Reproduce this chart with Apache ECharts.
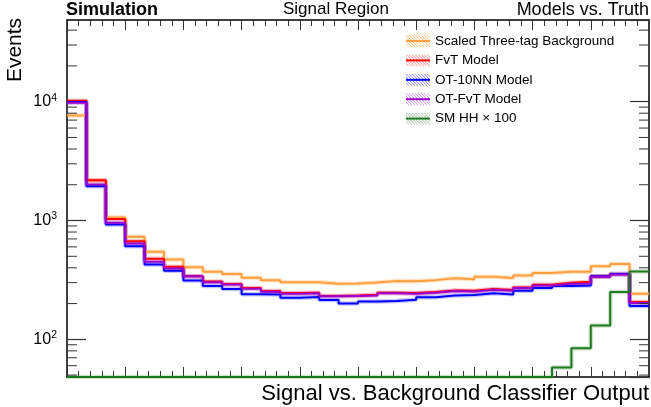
<!DOCTYPE html>
<html>
<head>
<meta charset="utf-8">
<script src="https://cdn.jsdelivr.net/npm/echarts@6/dist/echarts.min.js"></script>
<style>
  html, body { margin: 0; padding: 0; background: #fff; }
  #chart { width: 651px; height: 407px; }
</style>
</head>
<body>
<div id="chart"></div>
<script>
const FONT = '"Liberation Sans", Arial, Helvetica, sans-serif'

// 30 bins over the classifier output, 0..1
const binEdges = [0, 1/30, 2/30, 3/30, 4/30, 5/30, 6/30, 7/30, 8/30, 9/30, 10/30, 11/30, 12/30, 13/30, 14/30,
  15/30, 16/30, 17/30, 18/30, 19/30, 20/30, 21/30, 22/30, 23/30, 24/30, 25/30, 26/30, 27/30, 28/30, 29/30, 1]

const seriesNames = ['Scaled Three-tag Background', 'FvT Model', 'OT-10NN Model', 'OT-FvT Model', 'SM HH × 100']
const seriesColors = ['#ffa040', '#ff0000', '#0000ff', '#9a00d0', '#1f7a1f']
const bandColors = ['rgba(255,160,64,0.3)', 'rgba(255,0,0,0.22)', 'rgba(0,0,255,0.22)', 'rgba(154,0,208,0.22)', 'rgba(31,122,31,0.22)']

const threeTag = [7670, 2170, 1059, 729, 546, 470, 405, 371, 354, 330, 315, 303, 303, 294, 295,
  301, 309, 308, 315, 326, 320, 336, 328, 345, 361, 371, 371, 413, 430, 242]
const fvt = [10200, 2180, 1032, 670, 477, 408, 340, 307, 292, 270, 255, 245, 247, 232, 234,
  237, 247, 245, 250, 258, 256, 265, 260, 273, 288, 299, 305, 340, 355, 206]
const ot10nn = [9940, 1940, 925, 608, 427, 378, 313, 281, 265, 240, 239, 224, 227, 214, 200,
  208, 210, 215, 226, 234, 236, 244, 239, 257, 270, 281, 284, 340, 355, 191]
const otFvt = [9800, 2005, 957, 641, 450, 395, 340, 303, 289, 267, 252, 242, 244, 230, 232,
  234, 244, 242, 247, 255, 253, 262, 257, 270, 284, 293, 295, 336, 352, 202]
// below the axis floor in the first 25 bins
const smHH = [48.2, 48.2, 48.2, 48.2, 48.2, 48.2, 48.2, 48.2, 48.2, 48.2, 48.2, 48.2, 48.2, 48.2, 48.2,
  48.2, 48.2, 48.2, 48.2, 48.2, 48.2, 48.2, 48.2, 48.2, 48.2, 58, 84, 131, 250, 373]

const yMin = 48.2
const yMax = 48700
const yMinorTicks = [50, 60, 70, 80, 90, 200, 300, 400, 500, 600, 700, 800, 900,
  2000, 3000, 4000, 5000, 6000, 7000, 8000, 9000, 20000, 30000, 40000]

const allValues = [threeTag, fvt, ot10nn, otFvt, smHH]

// histogram outline: one point per lower edge, plus the closing edge
function histPoints(values) {
  const pts = values.map((v, i) => [binEdges[i], v])
  pts.push([binEdges[values.length], values[values.length - 1]])
  return pts
}

// hatched legend box with a line through it
function hatchIcon(color, light) {
  const c = document.createElement('canvas')
  c.width = 24
  c.height = 12
  const ctx = c.getContext('2d')
  ctx.strokeStyle = light
  ctx.lineWidth = 1
  for (let k = -12; k < 24; k += 3) {
    ctx.beginPath()
    ctx.moveTo(k, 0)
    ctx.lineTo(k + 12, 12)
    ctx.stroke()
  }
  ctx.strokeStyle = color
  ctx.lineWidth = 2
  ctx.beginPath()
  ctx.moveTo(0, 6)
  ctx.lineTo(24, 6)
  ctx.stroke()
  return c
}

const lightHatch = ['rgba(255,160,64,0.6)', 'rgba(255,0,0,0.45)', 'rgba(0,0,255,0.45)', 'rgba(154,0,208,0.45)', 'rgba(31,122,31,0.45)']

const series = []
allValues.forEach((vals, i) => {
  series.push({
    name: seriesNames[i],
    type: 'line',
    step: 'end',
    symbol: 'none',
    z: 3,
    data: histPoints(vals),
    lineStyle: { color: seriesColors[i], width: 2 },
    itemStyle: { color: seriesColors[i] }
  })
})
allValues.forEach((vals, i) => {
  series.push({
    name: seriesNames[i],
    type: 'line',
    step: 'end',
    symbol: 'none',
    silent: true,
    z: 2,
    data: histPoints(vals),
    lineStyle: { color: bandColors[i], width: 4.5 },
    itemStyle: { color: seriesColors[i] }
  })
})
// log minor ticks on left and right frame
series.push({
  type: 'custom',
  silent: true,
  z: 4,
  data: yMinorTicks.map(v => [0, v]),
  renderItem: (params, api) => {
    const y = api.coord([0, api.value(1)])[1]
    const cs = params.coordSys
    return {
      type: 'group',
      children: [
        { type: 'line', shape: { x1: cs.x, y1: y, x2: cs.x + 10, y2: y }, style: { stroke: '#333', lineWidth: 1 } },
        { type: 'line', shape: { x1: cs.x + cs.width - 10, y1: y, x2: cs.x + cs.width, y2: y }, style: { stroke: '#333', lineWidth: 1 } }
      ]
    }
  }
})

const xAxisBase = {
  type: 'value',
  min: 0,
  max: 1,
  interval: 0.1,
  axisLine: { onZero: false, lineStyle: { color: '#000', width: 1.5 } },
  axisTick: { inside: true, length: 10, lineStyle: { color: '#333', width: 1 } },
  minorTick: { show: true, splitNumber: 5, length: 6, lineStyle: { color: '#333', width: 1 } },
  axisLabel: { show: false },
  splitLine: { show: false }
}

const yAxisBase = {
  type: 'log',
  logBase: 10,
  min: yMin,
  max: yMax,
  axisLine: { onZero: false, lineStyle: { color: '#000', width: 1.5 } },
  axisTick: { inside: true, length: 19, lineStyle: { color: '#333', width: 1.2 } },
  splitLine: { show: false }
}

const chart = echarts.init(document.getElementById('chart'))
chart.setOption({
  animation: false,
  backgroundColor: '#fff',
  textStyle: { fontFamily: FONT },
  grid: { left: 67, right: 2, top: 20, bottom: 30 },
  title: [
    { text: 'Simulation', left: 66, top: 1, padding: 0, textStyle: { fontFamily: FONT, fontSize: 18, fontWeight: 'bold', color: '#000' } },
    { text: 'Signal Region', left: 283, top: 1, padding: 0, textStyle: { fontFamily: FONT, fontSize: 17, fontWeight: 'normal', color: '#000' } },
    { text: 'Models vs. Truth', right: 2, top: 1, padding: 0, textStyle: { fontFamily: FONT, fontSize: 18, fontWeight: 'normal', color: '#000' } }
  ],
  legend: {
    orient: 'vertical',
    left: 406,
    top: 34,
    padding: 0,
    itemWidth: 24,
    itemHeight: 12,
    itemGap: 5.4,
    textStyle: { fontFamily: FONT, fontSize: 13.5, lineHeight: 13, color: '#000' },
    data: seriesNames.map((n, i) => ({
      name: n,
      icon: 'rect',
      itemStyle: { color: { image: hatchIcon(seriesColors[i], lightHatch[i]), repeat: 'no-repeat' }, borderWidth: 0 }
    }))
  },
  xAxis: [
    Object.assign({}, xAxisBase, { position: 'bottom' }),
    Object.assign({}, xAxisBase, { position: 'top' })
  ],
  yAxis: [
    Object.assign({}, yAxisBase, {
      position: 'left',
      axisLabel: {
        margin: 10,
        showMinLabel: false,
        showMaxLabel: false,
        formatter: v => {
          const e = Math.round(Math.log10(v))
          if (Math.abs(Math.log10(v) - e) > 1e-6) return ''
          return '{b|10}{s|' + e + '}'
        },
        rich: {
          b: { fontFamily: FONT, fontSize: 16, color: '#000' },
          s: { fontFamily: FONT, fontSize: 10.5, color: '#000', verticalAlign: 'top', padding: [0, 0, 8, 0] }
        }
      }
    }),
    Object.assign({}, yAxisBase, { position: 'right', axisLabel: { show: false } })
  ],
  graphic: [
    {
      type: 'text', x: 15, y: 50, rotation: Math.PI / 2,
      style: { text: 'Events', font: '21px ' + FONT, fill: '#000', align: 'center', verticalAlign: 'middle' }
    },
    {
      type: 'text', x: 649, y: 394,
      style: { text: 'Signal vs. Background Classifier Output', font: '22px ' + FONT, fill: '#000', align: 'right', verticalAlign: 'middle' }
    }
  ],
  series: series
})
</script>
</body>
</html>
